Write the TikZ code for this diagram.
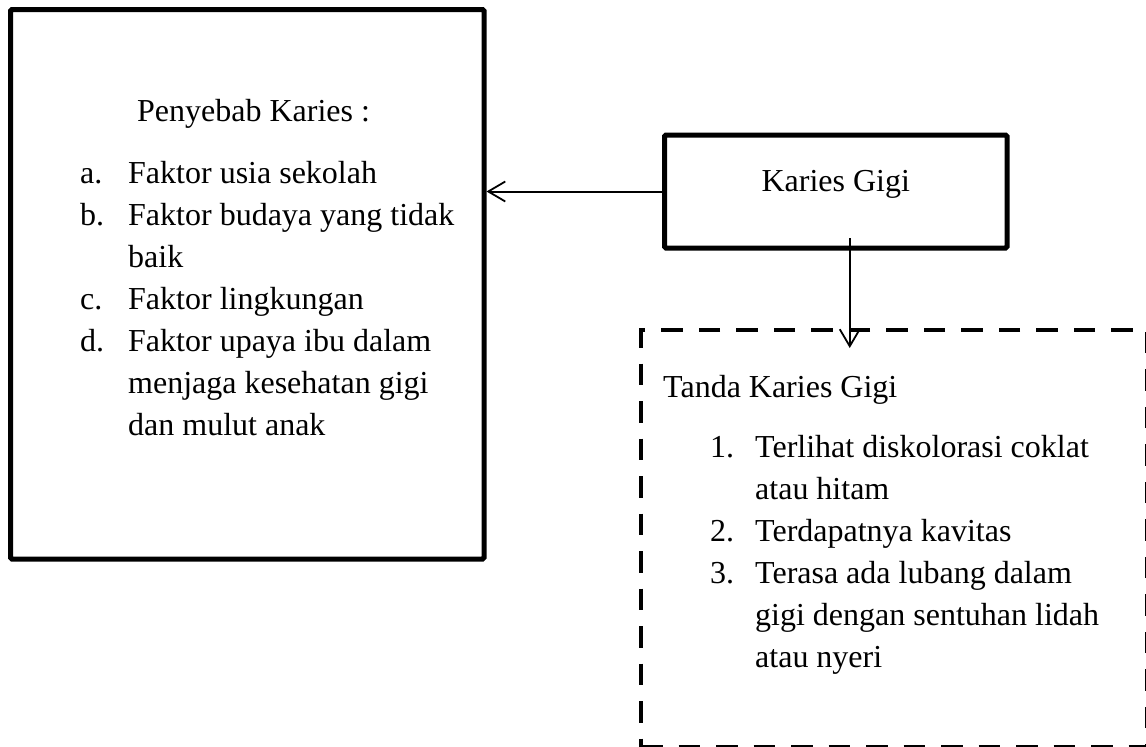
\documentclass[tikz,border=0pt]{standalone}
\usepackage{fontspec}
\setmainfont{Liberation Serif}
\usepackage{array}
\usetikzlibrary{arrows.meta}
\tikzset{
  solidbox/.style={draw, line width=5pt, rounded corners=1.5pt, inner sep=0pt},
  dashbox/.style={draw, line width=4pt, dash pattern=on 21.5pt off 16pt, inner sep=0pt},
  txt/.style={inner sep=0pt, anchor=base west, font=\fontsize{32}{42}\selectfont},
  arr/.style={line width=2pt, -{Straight Barb[length=17pt,width=20pt,line width=1.8pt]}}
}
\begin{document}
\begin{tikzpicture}[x=1pt,y=-1pt]
\useasboundingbox (0,0) rectangle (1146,747);
% boxes
\node[solidbox, minimum width=473.5pt, minimum height=549.5pt] (penyebab) at (247.25,284.25) {};
\node[solidbox, minimum width=342.5pt, minimum height=113pt,
      font=\fontsize{32}{42}\selectfont, text height=21pt, text depth=21pt] (kg) at (835.75,191.5) {Karies Gigi};
\node[dashbox, minimum width=506pt, minimum height=417pt] (tanda) at (894,538.5) {};
% texts of left box
\node[txt] (ptitle) at (137,121) {Penyebab Karies :};
\node[txt] (plist) at (80,183) {\begin{tabular}[t]{@{}p{48pt}@{}l@{}}
a. & Faktor usia sekolah\\
b. & Faktor budaya yang tidak\\
   & baik\\
c. & Faktor lingkungan\\
d. & Faktor upaya ibu dalam\\
   & menjaga kesehatan gigi\\
   & dan mulut anak
\end{tabular}};
% texts of dashed box
\node[txt] (ttitle) at (663,397) {Tanda Karies Gigi};
\node[txt] (tlist) at (710,457) {\begin{tabular}[t]{@{}p{45pt}@{}l@{}}
1. & Terlihat diskolorasi coklat\\
   & atau hitam\\
2. & Terdapatnya kavitas\\
3. & Terasa ada lubang dalam\\
   & gigi dengan sentuhan lidah\\
   & atau nyeri
\end{tabular}};
% connectors
\draw[arr] (kg.west) -- (kg.west -| penyebab.east);
\coordinate (s) at ([xshift=14pt,yshift=12.5pt]kg.south);
\coordinate (tn) at ([yshift=-20pt]tanda.north);
\coordinate (e) at (tn -| s);
\draw[arr] (s) -- (e);
\end{tikzpicture}
\end{document}
